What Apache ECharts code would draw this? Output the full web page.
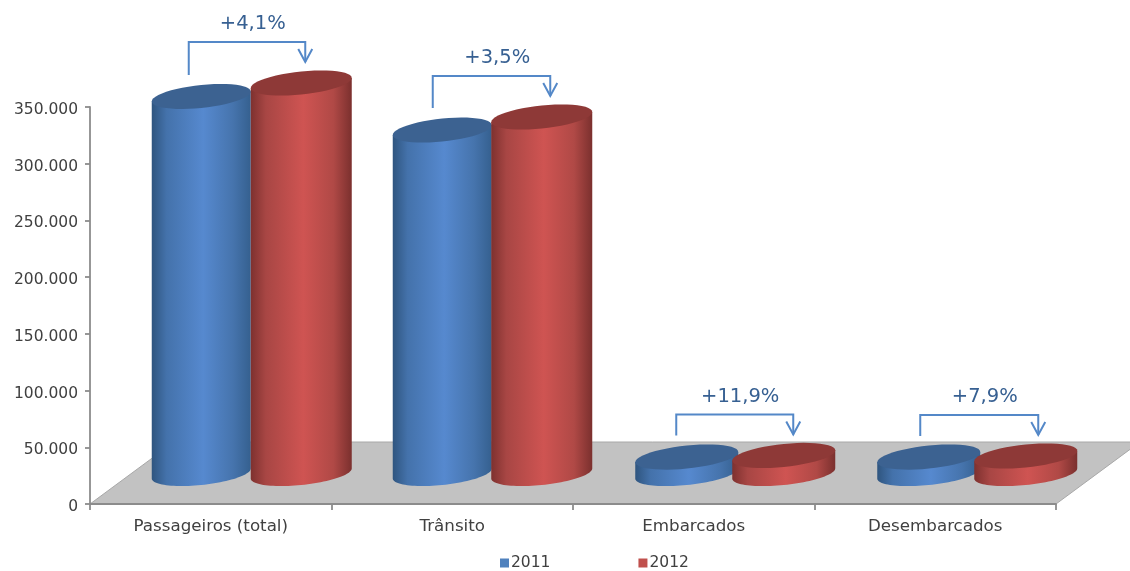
<!DOCTYPE html>
<html><head><meta charset="utf-8">
<script src="https://cdn.jsdelivr.net/npm/echarts@6/dist/echarts.min.js"></script>
<style>html,body{margin:0;padding:0;background:#fff}#c{width:1130px;height:571px;filter:blur(0.55px)}</style>
</head><body><div id="c"></div>
<script>
const categories = ['Passageiros (total)', 'Trânsito', 'Embarcados', 'Desembarcados'];
const values2011 = [332400, 302800, 14500, 14500];
const values2012 = [344300, 314300, 15900, 15450];
const changeLabels = ['+4,1%', '+3,5%', '+11,9%', '+7,9%'];
const seriesNames = ['2011', '2012'];

// layout of the oblique projection, relative to each category centre
const DEPTH_Y = -30.5;
const BAR_W = [[99, 99, 103, 103], [101, 101, 103, 103]];
const BAR_DX = [[-9.5, -10, -7, -6.5], [90.5, 89.5, 90, 90.5]];
const BR_L = [-22, -19.5, -17.5, -15], BR_R = [94.5, 98, 99.5, 103];
const BR_STEM = [33, 32, 21, 21];
const TEXT_X = [42, 45, 46.5, 49.5];

const FONT = '"DejaVu Sans"';
const TEXT = '#404040';
const AXIS = '#8c8c8c';
const PAL = [
  {stops: ['#2f557f', '#4472ab', '#5689cf', '#4674ad', '#35608f'], top: '#3c6291'},
  {stops: ['#7e312f', '#a84644', '#cf5452', '#b04946', '#7b302e'], top: '#8e3937'}
];

function ellipsePts(cx, cy, a, b, k, from, to) {
  const pts = [], n = 48;
  for (let i = 0; i <= n; i++) {
    const t = from + (to - from) * i / n;
    const x = a * Math.cos(t);
    pts.push([cx + x, cy + b * Math.sin(t) + k * x]);
  }
  return pts;
}

function cylinder(sIdx) {
  return function (params, api) {
    const i = api.value(0);
    const base = api.coord([i, 0]);
    const top = api.coord([i, api.value(1)]);
    const cx = base[0] + BAR_DX[sIdx][i];
    const yb = base[1] + DEPTH_Y, yt = top[1] + DEPTH_Y;
    const a = BAR_W[sIdx][i] / 2, b = 11.5, k = -0.1;
    const pal = PAL[sIdx];
    // from the left end through the lower side to the right end, then up
    const poly = ellipsePts(cx, yb, a, b, k, Math.PI, 0)
      .concat([[cx + a, yt + k * a], [cx - a, yt - k * a]]);
    const grad = new echarts.graphic.LinearGradient(0, 0, 1, 0, [
      {offset: 0, color: pal.stops[0]},
      {offset: 0.15, color: pal.stops[1]},
      {offset: 0.52, color: pal.stops[2]},
      {offset: 0.82, color: pal.stops[3]},
      {offset: 1, color: pal.stops[4]}
    ]);
    return {
      type: 'group',
      children: [
        {type: 'polygon', shape: {points: poly}, style: {fill: grad}},
        {type: 'polygon', shape: {points: ellipsePts(cx, yt, a, b, k, 0, Math.PI * 2)}, style: {fill: pal.top}}
      ]
    };
  };
}

function floorItem(params, api) {
  const g = params.coordSys;
  const x0 = g.x, x1 = g.x + g.width, y = g.y + g.height;
  return {type: 'polygon', shape: {points: [[x0, y], [x0 + 84, y - 62], [x1 + 84, y - 62], [x1, y]]},
    style: {fill: '#c2c2c2', stroke: '#a8a8a8', lineWidth: 1}, silent: true};
}

function bracketItem(params, api) {
  const i = api.value(0);
  const c = api.coord([i, 0])[0];
  const topY = api.coord([i, values2012[i]])[1] + DEPTH_Y - 41;
  const xl = c + BR_L[i], xr = c + BR_R[i], tip = topY + 20;
  const st = {stroke: '#5488c8', fill: null, lineWidth: 2};
  return {
    type: 'group', silent: true,
    children: [
      {type: 'polyline', shape: {points: [[xl, topY + BR_STEM[i]], [xl, topY], [xr, topY], [xr, tip]]}, style: st},
      {type: 'polyline', shape: {points: [[xr - 7, tip - 13], [xr, tip], [xr + 7, tip - 13]]}, style: st},
      {type: 'text', x: c + TEXT_X[i], y: topY - 18,
        style: {text: changeLabels[i], fill: '#376092', font: '19.5px ' + FONT, align: 'center', verticalAlign: 'middle'}}
    ]
  };
}

function rows(vals) { return vals.map((v, i) => [i, v]); }

const chart = echarts.init(document.getElementById('c'), null, {renderer: 'canvas'});
chart.setOption({
  animation: false,
  backgroundColor: '#fff',
  grid: {left: 90, right: 74, top: 107, bottom: 67, containLabel: false},
  legend: {
    data: seriesNames, left: 495, top: 550, itemWidth: 9, itemHeight: 9, itemGap: 88, selectedMode: false,
    icon: 'rect', textStyle: {fontFamily: FONT, fontSize: 15.5, color: TEXT, padding: [0, 0, 0, -3]}
  },
  xAxis: {
    type: 'category', data: categories, boundaryGap: true,
    axisLine: {lineStyle: {color: AXIS, width: 1.8}},
    axisTick: {show: true, length: 6, lineStyle: {color: AXIS, width: 1.8}},
    axisLabel: {fontFamily: FONT, fontSize: 16.7, color: TEXT, margin: 14, interval: 0},
    z: 5
  },
  yAxis: {
    type: 'value', min: 0, max: 350000, interval: 50000,
    axisLine: {show: true, lineStyle: {color: AXIS, width: 1.8}},
    axisTick: {show: true, length: 5, lineStyle: {color: AXIS, width: 1.8}},
    splitLine: {show: false},
    axisLabel: {margin: 12,
      rich: {t: {fontFamily: FONT, fontSize: 15.5, color: TEXT, padding: [6, 0, 0, 0]}},
      formatter: v => '{t|' + String(v).replace(/\B(?=(\d{3})+$)/g, '.') + '}'},
    z: 5
  },
  series: [
    {type: 'custom', name: 'floor', data: [[0, 0]], renderItem: floorItem, z: 1, silent: true, clip: false},
    {type: 'custom', name: seriesNames[0], data: rows(values2011), renderItem: cylinder(0), z: 2,
      itemStyle: {color: '#4f81bd'}, clip: false, encode: {x: 0, y: 1}},
    {type: 'custom', name: seriesNames[1], data: rows(values2012), renderItem: cylinder(1), z: 3,
      itemStyle: {color: '#c0504d'}, clip: false, encode: {x: 0, y: 1}},
    {type: 'custom', name: 'change', data: rows(values2012), renderItem: bracketItem, z: 4, silent: true, clip: false, encode: {x: 0, y: 1}}
  ]
});
</script></body></html>
